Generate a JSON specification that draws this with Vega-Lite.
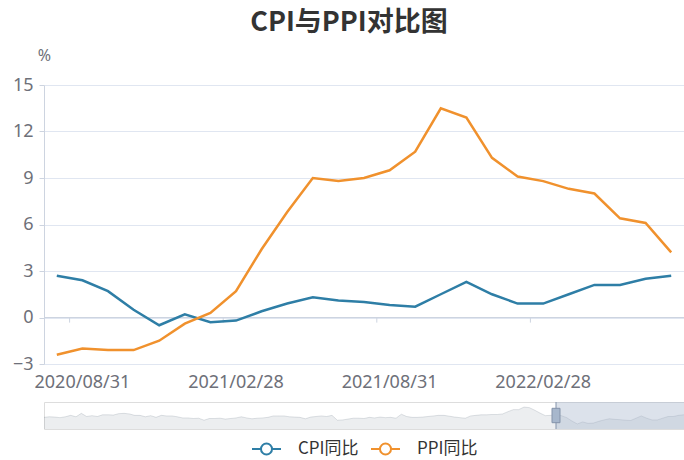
{
  "$schema": "https://vega.github.io/schema/vega-lite/v6.json",
  "padding": {"left": 12, "right": 0, "top": 9, "bottom": 2},
  "title": {"text": "CPI与PPI对比图", "font": "Noto Sans CJK SC", "fontSize": 27, "fontWeight": "bold", "color": "#333333", "anchor": "middle", "offset": 10},
  "bounds": "flush",
  "spacing": 38,
  "datasets": {
    "hist": [
      {"date": "2012/07/31", "CPI同比": 1.8},
      {"date": "2012/08/31", "CPI同比": 2.0},
      {"date": "2012/09/30", "CPI同比": 1.9},
      {"date": "2012/10/31", "CPI同比": 1.7},
      {"date": "2012/11/30", "CPI同比": 2.0},
      {"date": "2012/12/31", "CPI同比": 2.5},
      {"date": "2013/01/31", "CPI同比": 2.0},
      {"date": "2013/02/28", "CPI同比": 3.2},
      {"date": "2013/03/31", "CPI同比": 2.1},
      {"date": "2013/04/30", "CPI同比": 2.4},
      {"date": "2013/05/31", "CPI同比": 2.1},
      {"date": "2013/06/30", "CPI同比": 2.7},
      {"date": "2013/07/31", "CPI同比": 2.7},
      {"date": "2013/08/31", "CPI同比": 2.6},
      {"date": "2013/09/30", "CPI同比": 3.1},
      {"date": "2013/10/31", "CPI同比": 3.2},
      {"date": "2013/11/30", "CPI同比": 3.0},
      {"date": "2013/12/31", "CPI同比": 2.5},
      {"date": "2014/01/31", "CPI同比": 2.5},
      {"date": "2014/02/28", "CPI同比": 2.0},
      {"date": "2014/03/31", "CPI同比": 2.4},
      {"date": "2014/04/30", "CPI同比": 1.8},
      {"date": "2014/05/31", "CPI同比": 2.5},
      {"date": "2014/06/30", "CPI同比": 2.3},
      {"date": "2014/07/31", "CPI同比": 2.3},
      {"date": "2014/08/31", "CPI同比": 2.0},
      {"date": "2014/09/30", "CPI同比": 1.6},
      {"date": "2014/10/31", "CPI同比": 1.6},
      {"date": "2014/11/30", "CPI同比": 1.4},
      {"date": "2014/12/31", "CPI同比": 1.5},
      {"date": "2015/01/31", "CPI同比": 0.8},
      {"date": "2015/02/28", "CPI同比": 1.4},
      {"date": "2015/03/31", "CPI同比": 1.4},
      {"date": "2015/04/30", "CPI同比": 1.5},
      {"date": "2015/05/31", "CPI同比": 1.2},
      {"date": "2015/06/30", "CPI同比": 1.4},
      {"date": "2015/07/31", "CPI同比": 1.6},
      {"date": "2015/08/31", "CPI同比": 2.0},
      {"date": "2015/09/30", "CPI同比": 1.6},
      {"date": "2015/10/31", "CPI同比": 1.3},
      {"date": "2015/11/30", "CPI同比": 1.5},
      {"date": "2015/12/31", "CPI同比": 1.6},
      {"date": "2016/01/31", "CPI同比": 1.8},
      {"date": "2016/02/29", "CPI同比": 2.3},
      {"date": "2016/03/31", "CPI同比": 2.3},
      {"date": "2016/04/30", "CPI同比": 2.3},
      {"date": "2016/05/31", "CPI同比": 2.0},
      {"date": "2016/06/30", "CPI同比": 1.9},
      {"date": "2016/07/31", "CPI同比": 1.8},
      {"date": "2016/08/31", "CPI同比": 1.3},
      {"date": "2016/09/30", "CPI同比": 1.9},
      {"date": "2016/10/31", "CPI同比": 2.1},
      {"date": "2016/11/30", "CPI同比": 2.3},
      {"date": "2016/12/31", "CPI同比": 2.1},
      {"date": "2017/01/31", "CPI同比": 2.5},
      {"date": "2017/02/28", "CPI同比": 0.8},
      {"date": "2017/03/31", "CPI同比": 0.9},
      {"date": "2017/04/30", "CPI同比": 1.2},
      {"date": "2017/05/31", "CPI同比": 1.5},
      {"date": "2017/06/30", "CPI同比": 1.5},
      {"date": "2017/07/31", "CPI同比": 1.4},
      {"date": "2017/08/31", "CPI同比": 1.8},
      {"date": "2017/09/30", "CPI同比": 1.6},
      {"date": "2017/10/31", "CPI同比": 1.9},
      {"date": "2017/11/30", "CPI同比": 1.7},
      {"date": "2017/12/31", "CPI同比": 1.8},
      {"date": "2018/01/31", "CPI同比": 1.5},
      {"date": "2018/02/28", "CPI同比": 2.9},
      {"date": "2018/03/31", "CPI同比": 2.1},
      {"date": "2018/04/30", "CPI同比": 1.8},
      {"date": "2018/05/31", "CPI同比": 1.8},
      {"date": "2018/06/30", "CPI同比": 1.9},
      {"date": "2018/07/31", "CPI同比": 2.1},
      {"date": "2018/08/31", "CPI同比": 2.3},
      {"date": "2018/09/30", "CPI同比": 2.5},
      {"date": "2018/10/31", "CPI同比": 2.5},
      {"date": "2018/11/30", "CPI同比": 2.2},
      {"date": "2018/12/31", "CPI同比": 1.9},
      {"date": "2019/01/31", "CPI同比": 1.7},
      {"date": "2019/02/28", "CPI同比": 1.5},
      {"date": "2019/03/31", "CPI同比": 2.3},
      {"date": "2019/04/30", "CPI同比": 2.5},
      {"date": "2019/05/31", "CPI同比": 2.7},
      {"date": "2019/06/30", "CPI同比": 2.7},
      {"date": "2019/07/31", "CPI同比": 2.8},
      {"date": "2019/08/31", "CPI同比": 2.8},
      {"date": "2019/09/30", "CPI同比": 3.0},
      {"date": "2019/10/31", "CPI同比": 3.8},
      {"date": "2019/11/30", "CPI同比": 4.5},
      {"date": "2019/12/31", "CPI同比": 4.5},
      {"date": "2020/01/31", "CPI同比": 5.4},
      {"date": "2020/02/29", "CPI同比": 5.2},
      {"date": "2020/03/31", "CPI同比": 4.3},
      {"date": "2020/04/30", "CPI同比": 3.3},
      {"date": "2020/05/31", "CPI同比": 2.4},
      {"date": "2020/06/30", "CPI同比": 2.5},
      {"date": "2020/07/31", "CPI同比": 2.7, "PPI同比": -2.4},
      {"date": "2020/08/31", "CPI同比": 2.4, "PPI同比": -2.0},
      {"date": "2020/09/30", "CPI同比": 1.7, "PPI同比": -2.1},
      {"date": "2020/10/31", "CPI同比": 0.5, "PPI同比": -2.1},
      {"date": "2020/11/30", "CPI同比": -0.5, "PPI同比": -1.5},
      {"date": "2020/12/31", "CPI同比": 0.2, "PPI同比": -0.4},
      {"date": "2021/01/31", "CPI同比": -0.3, "PPI同比": 0.3},
      {"date": "2021/02/28", "CPI同比": -0.2, "PPI同比": 1.7},
      {"date": "2021/03/31", "CPI同比": 0.4, "PPI同比": 4.4},
      {"date": "2021/04/30", "CPI同比": 0.9, "PPI同比": 6.8},
      {"date": "2021/05/31", "CPI同比": 1.3, "PPI同比": 9.0},
      {"date": "2021/06/30", "CPI同比": 1.1, "PPI同比": 8.8},
      {"date": "2021/07/31", "CPI同比": 1.0, "PPI同比": 9.0},
      {"date": "2021/08/31", "CPI同比": 0.8, "PPI同比": 9.5},
      {"date": "2021/09/30", "CPI同比": 0.7, "PPI同比": 10.7},
      {"date": "2021/10/31", "CPI同比": 1.5, "PPI同比": 13.5},
      {"date": "2021/11/30", "CPI同比": 2.3, "PPI同比": 12.9},
      {"date": "2021/12/31", "CPI同比": 1.5, "PPI同比": 10.3},
      {"date": "2022/01/31", "CPI同比": 0.9, "PPI同比": 9.1},
      {"date": "2022/02/28", "CPI同比": 0.9, "PPI同比": 8.8},
      {"date": "2022/03/31", "CPI同比": 1.5, "PPI同比": 8.3},
      {"date": "2022/04/30", "CPI同比": 2.1, "PPI同比": 8.0},
      {"date": "2022/05/31", "CPI同比": 2.1, "PPI同比": 6.4},
      {"date": "2022/06/30", "CPI同比": 2.5, "PPI同比": 6.1},
      {"date": "2022/07/31", "CPI同比": 2.7, "PPI同比": 4.2}
    ]
  },
  "vconcat": [
    {
      "width": 640,
      "height": 279,
      "data": {"name": "hist"},
      "transform": [{"filter": "datum.date >= '2020/07/31'"}],
      "layer": [
        {
          "transform": [{"fold": ["CPI同比", "PPI同比"], "as": ["series", "value"]}],
          "mark": {"type": "line", "strokeWidth": 2.5, "opacity": 0},
          "encoding": {
            "x": {
              "field": "date", "type": "ordinal", "bandPosition": 0.5,
              "scale": {"type": "band", "paddingInner": 0, "paddingOuter": 0},
              "axis": {"values": ["2020/08/31", "2021/02/28", "2021/08/31", "2022/02/28"], "title": null, "domain": false, "ticks": false, "grid": false, "labelFontSize": 18, "labelColor": "#6e7079", "labelPadding": 9, "labelAngle": 0}
            },
            "y": {
              "field": "value", "type": "quantitative",
              "scale": {"domain": [-3, 15], "nice": false, "zero": false},
              "axis": {"values": [-3, 0, 3, 6, 9, 12, 15], "title": "%", "titleAngle": 0, "titleX": 0, "titleY": -30, "titleAlign": "center", "titleBaseline": "middle", "titleFontSize": 16, "titleFontWeight": "normal", "titleColor": "#6e7079", "labelFontSize": 18, "labelColor": "#6e7079", "labelPadding": 6, "tickSize": 5, "tickColor": "#cdd4e0", "domainColor": "#cdd4e0", "grid": true, "gridColor": "#e0e6f1"}
            },
            "color": {
              "field": "series", "type": "nominal",
              "scale": {"domain": ["CPI同比", "PPI同比"], "range": ["#2e7ea6", "#f0912d"]},
              "legend": {"title": null, "orient": "bottom", "direction": "horizontal", "symbolType": "M-1,0H-0.38M0.38,0H1M-0.38,0A0.38,0.38,0,1,1,0.38,0A0.38,0.38,0,1,1,-0.38,0", "symbolSize": 841, "symbolStrokeWidth": 2, "symbolFillColor": "#ffffff", "symbolOpacity": 1, "labelFontSize": 17, "labelColor": "#333333", "labelFont": "Noto Sans CJK SC", "columnPadding": 8, "labelOffset": 16, "offset": 3}
            }
          }
        },
        {
          "transform": [{"filter": "datum.date == '2020/07/31'"}],
          "mark": {"type": "rule", "color": "#cdd4e0", "strokeWidth": 1},
          "encoding": {"y": {"datum": 0, "type": "quantitative"}}
        },
        {
          "transform": [{"filter": {"field": "date", "oneOf": ["2020/08/31", "2021/02/28", "2021/08/31", "2022/02/28"]}}],
          "mark": {"type": "rule", "color": "#cdd4e0", "strokeWidth": 1},
          "encoding": {
            "x": {"field": "date", "type": "ordinal", "bandPosition": 0},
            "y": {"datum": 0, "type": "quantitative"},
            "y2": {"datum": -0.33}
          }
        },
        {
          "transform": [{"fold": ["CPI同比", "PPI同比"], "as": ["series", "value"]}],
          "mark": {"type": "line", "strokeWidth": 2.5},
          "encoding": {
            "x": {"field": "date", "type": "ordinal", "bandPosition": 0.5},
            "y": {"field": "value", "type": "quantitative"},
            "color": {"field": "series", "type": "nominal"}
          }
        }
      ]
    },
    {
      "width": 640,
      "height": 27,
      "data": {"name": "hist"},
      "view": {"stroke": "#dddddd"},
      "encoding": {"x": {"field": "date", "type": "ordinal", "scale": {"type": "point", "padding": 0}, "axis": null}},
      "layer": [
        {
          "mark": {"type": "area", "color": "#2f4554", "opacity": 0.09},
          "encoding": {
            "y": {"field": "CPI同比", "type": "quantitative", "scale": {"domain": [-2.27, 7.17], "nice": false, "zero": false}, "axis": null},
            "y2": {"datum": -2.27}
          }
        },
        {
          "mark": {"type": "line", "color": "#2f4554", "strokeOpacity": 0.3, "strokeWidth": 0.5},
          "encoding": {"y": {"field": "CPI同比", "type": "quantitative", "axis": null}}
        },
        {
          "transform": [{"filter": "datum.date == '2020/07/31'"}],
          "mark": {"type": "rect", "color": "#a7b7cc", "opacity": 0.4},
          "encoding": {"x2": {"datum": "2022/07/31"}}
        },
        {
          "transform": [{"filter": "datum.date == '2020/07/31'"}],
          "mark": {"type": "rule", "color": "#8493aa", "strokeWidth": 1}
        },
        {
          "transform": [{"filter": "datum.date == '2020/07/31'"}],
          "mark": {"type": "point", "shape": "M-0.5,-0.9H0.5V0.9H-0.5Z", "filled": true, "color": "#a7b7cc", "stroke": "#8493aa", "strokeWidth": 1, "size": 256, "opacity": 1},
          "encoding": {"y": {"datum": 2.45, "type": "quantitative", "axis": null}}
        }
      ]
    }
  ],
  "config": {
    "font": "Noto Sans, Noto Sans CJK SC",
    "view": {"stroke": null},
    "legend": {"layout": {"bottom": {"anchor": "middle"}}}
  }
}
